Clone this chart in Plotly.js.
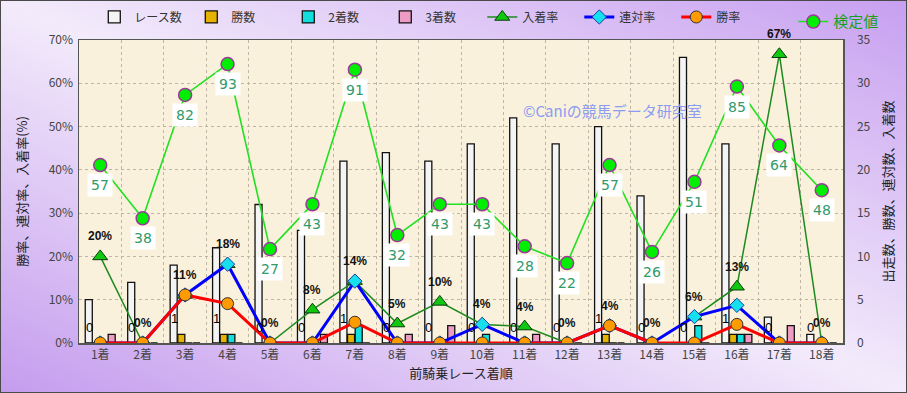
<!DOCTYPE html>
<html>
<head>
<meta charset="utf-8">
<script src="https://cdn.plot.ly/plotly-3.0.1.min.js"></script>
<style>
  html, body { margin: 0; padding: 0; }
  #wrap { position: relative; width: 907px; height: 393px; }
  #chart { width: 907px; height: 393px;
    background: linear-gradient(to top right, #c59cee 0%, #f3ebfb 50%, #c79ff0 100%); }
  #frame { position: absolute; left: 0; top: 0; width: 905px; height: 391px;
    border: 1px solid #4a4a4a; pointer-events: none; }
</style>
</head>
<body>
<div id="wrap"><div id="chart"></div><div id="frame"></div></div>
<script>
// ---- data ----
const categories = ['1着','2着','3着','4着','5着','6着','7着','8着','9着','10着','11着','12着','13着','14着','15着','16着','17着','18着'];
const races   = [5, 7, 9, 11, 16, 13, 21, 22, 21, 23, 26, 23, 25, 17, 33, 23, 3, 1];
const wins    = [0, 0, 1, 1, 0, 0, 1, 0, 0, 0, 0, 0, 1, 0, 0, 1, 0, 0];
const seconds = [0, 0, 0, 1, 0, 0, 2, 0, 0, 1, 0, 0, 0, 0, 2, 1, 0, 0];
const thirds  = [1, 0, 0, 0, 0, 1, 0, 1, 2, 0, 1, 0, 0, 0, 0, 1, 2, 0];
const placeRate  = [20, 0, 11.1, 18.2, 0, 7.7, 14.3, 4.5, 9.5, 4.3, 3.8, 0, 4, 0, 6.1, 13, 66.7, 0];
const rentaiRate = [0, 0, 11.1, 18.2, 0, 0, 14.3, 0, 0, 4.3, 0, 0, 4, 0, 6.1, 8.7, 0, 0];
const winRate    = [0, 0, 11.1, 9.1, 0, 0, 4.8, 0, 0, 0, 0, 0, 4, 0, 0, 4.3, 0, 0];
const testValue  = [57, 38, 82, 93, 27, 43, 91, 32, 43, 43, 28, 22, 57, 26, 51, 85, 64, 48];

const tickFont = {family: 'Noto Sans CJK JP, sans-serif', size: 12, color: '#444'};
const barLine = {color: '#111', width: 1.3};

const traces = [
  {type: 'bar', name: 'レース数', x: categories, y: races, yaxis: 'y',
   marker: {color: '#f4f4f4', line: barLine}},
  {type: 'bar', name: '勝数', x: categories, y: wins, yaxis: 'y',
   marker: {color: '#e6b400', line: barLine}},
  {type: 'bar', name: '2着数', x: categories, y: seconds, yaxis: 'y',
   marker: {color: '#12dede', line: barLine}},
  {type: 'bar', name: '3着数', x: categories, y: thirds, yaxis: 'y',
   marker: {color: '#ee9cc4', line: barLine}},
  {type: 'scatter', mode: 'lines+markers', name: '入着率', x: categories, y: placeRate, yaxis: 'y2',
   line: {color: '#1e8a1e', width: 1.5},
   marker: {symbol: 'triangle-up', size: 13, color: '#10c810', line: {color: '#0b3a0b', width: 1}}},
  {type: 'scatter', mode: 'lines+markers', name: '連対率', x: categories, y: rentaiRate, yaxis: 'y2',
   line: {color: '#0000ff', width: 3},
   marker: {symbol: 'diamond', size: 11, color: '#16e0f0', line: {color: '#1a3a9a', width: 1}}},
  {type: 'scatter', mode: 'lines+markers', name: '勝率', x: categories, y: winRate, yaxis: 'y2',
   line: {color: '#ff0000', width: 3},
   marker: {symbol: 'circle', size: 12, color: '#ff9a00', line: {color: '#333', width: 1}}},
  {type: 'scatter', mode: 'lines+markers', name: '検定値', x: categories, y: testValue, yaxis: 'y3',
   legend: 'legend2',
   line: {color: '#22e022', width: 1.6},
   marker: {symbol: 'circle', size: 13, color: '#00ee00', line: {color: '#9a3a9a', width: 1.5}}}
];

const annotations = [];
categories.forEach((c, i) => {
  annotations.push({x: c, y: wins[i], xref: 'x', yref: 'y', yshift: 16, xshift: -11, showarrow: false,
    text: String(wins[i]),
    font: {family: 'Liberation Sans, sans-serif', size: 13, color: '#000'}});
  annotations.push({x: c, y: placeRate[i], xref: 'x', yref: 'y2', yshift: 20, showarrow: false,
    text: Math.round(placeRate[i]) + '%',
    font: {family: 'Liberation Sans, sans-serif', size: 12, color: '#111', weight: 'bold'}});
  annotations.push({x: c, y: testValue[i], xref: 'x', yref: 'y3', yshift: -20, showarrow: false,
    text: String(testValue[i]), bgcolor: '#ffffff', borderpad: 3,
    font: {family: 'DejaVu Sans, sans-serif', size: 14, color: '#2f9a6a'}});
});
annotations.push({xref: 'paper', yref: 'paper', x: 0.818, y: 0.81, showarrow: false,
  text: '©Caniの競馬データ研究室',
  font: {family: 'Noto Sans CJK JP, sans-serif', size: 15, color: '#8c9cf0'}});

const gridColor = '#bdb6a8';

const layout = {
  width: 907, height: 393,
  margin: {l: 79, r: 64, t: 40, b: 50, autoexpand: false},
  paper_bgcolor: 'rgba(0,0,0,0)',
  plot_bgcolor: '#faf1dc',
  barmode: 'group', bargap: 0.28, bargroupgap: 0.08,
  font: tickFont,
  showlegend: true,
  legend: {orientation: 'h', x: 0.02, xanchor: 'left', y: 1.076, yanchor: 'middle',
    bgcolor: 'rgba(0,0,0,0)', font: {family: 'Noto Sans CJK JP, sans-serif', size: 12, color: '#333'},
    entrywidth: 52, itemwidth: 30},
  legend2: {orientation: 'h', x: 0.935, xanchor: 'left', y: 1.06, yanchor: 'middle',
    bgcolor: 'rgba(0,0,0,0)', font: {family: 'Noto Sans CJK JP, sans-serif', size: 15, color: '#18a018'}},
  xaxis: {type: 'category', range: [-0.5, 17.5], tickson: 'boundaries', ticks: '', showgrid: true,
    gridcolor: gridColor, griddash: 'dot', gridwidth: 1,
    showline: true, linecolor: '#555', linewidth: 1.5, mirror: true,
    tickfont: tickFont,
    title: {text: '前騎乗レース着順', standoff: 8,
      font: {family: 'Noto Sans CJK JP, sans-serif', size: 13, color: '#222'}}},
  yaxis: {side: 'right', range: [0, 35], dtick: 5, showgrid: true,
    gridcolor: gridColor, griddash: 'dot', gridwidth: 1, zeroline: false,
    showline: true, linecolor: '#555', linewidth: 1.5, mirror: true,
    ticklabelstandoff: 10, tickfont: tickFont,
    title: {text: '出走数、勝数、連対数、入着数', standoff: 14,
      font: {family: 'Noto Sans CJK JP, sans-serif', size: 13, color: '#222'}}},
  yaxis2: {overlaying: 'y', side: 'left', range: [0, 70], dtick: 10, ticksuffix: '%',
    showgrid: false, zeroline: false, ticklabelstandoff: 5, tickfont: tickFont,
    title: {text: '勝率、連対率、入着率(%)', standoff: 18,
      font: {family: 'Noto Sans CJK JP, sans-serif', size: 13, color: '#222'}}},
  yaxis3: {overlaying: 'y', visible: false, range: [-6.5, 101.6]},
  annotations: annotations
};

Plotly.newPlot('chart', traces, layout, {displayModeBar: false, staticPlot: true});
</script>
</body>
</html>
